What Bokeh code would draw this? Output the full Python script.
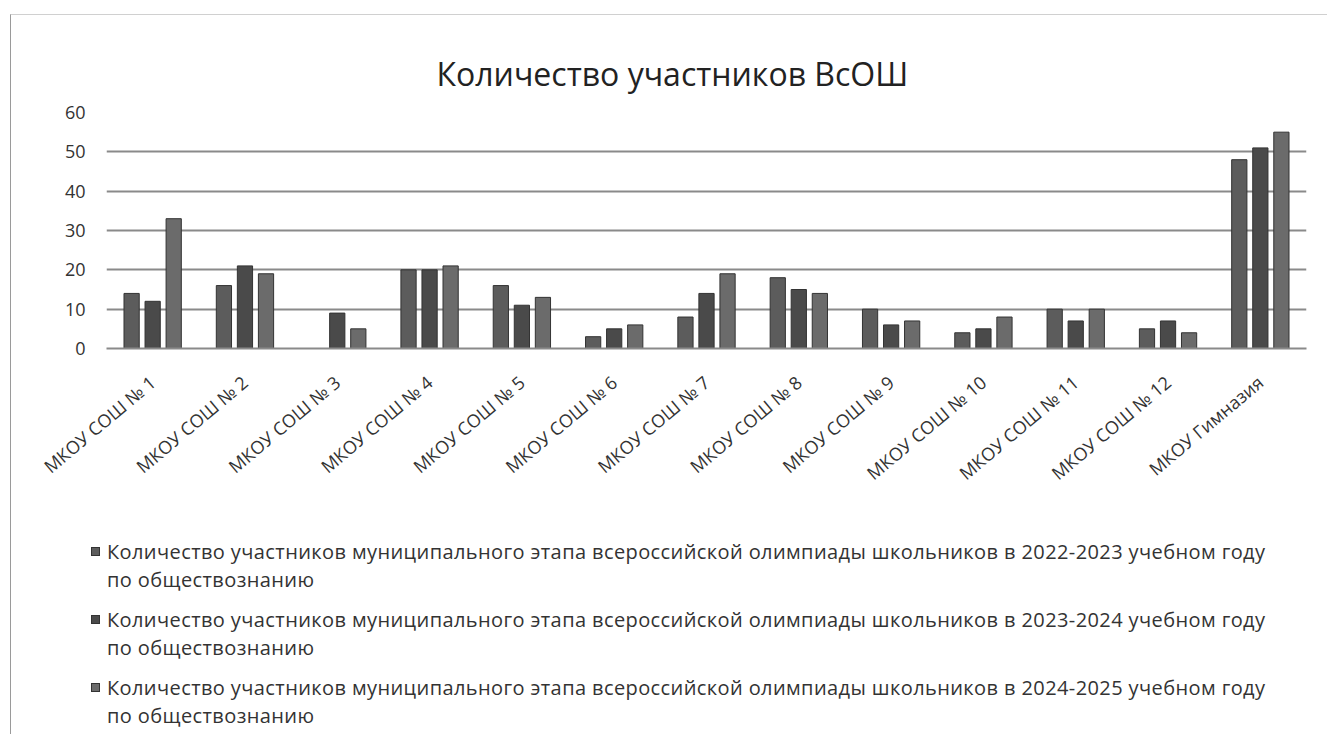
from bokeh.plotting import figure
from bokeh.models import ColumnDataSource, FactorRange, Range1d, FixedTicker, Div
from bokeh.layouts import column
from bokeh.transform import dodge
from bokeh.embed import file_html
from bokeh.resources import INLINE

title_text = "Количество участников ВсОШ"
schools = ["МКОУ СОШ № 1", "МКОУ СОШ № 2", "МКОУ СОШ № 3", "МКОУ СОШ № 4",
           "МКОУ СОШ № 5", "МКОУ СОШ № 6", "МКОУ СОШ № 7", "МКОУ СОШ № 8",
           "МКОУ СОШ № 9", "МКОУ СОШ № 10", "МКОУ СОШ № 11", "МКОУ СОШ № 12",
           "МКОУ Гимназия"]
y_2022 = [14, 16, 0, 20, 16, 3, 8, 18, 10, 4, 10, 5, 48]
y_2023 = [12, 21, 9, 20, 11, 5, 14, 15, 6, 5, 7, 7, 51]
y_2024 = [33, 19, 5, 21, 13, 6, 19, 14, 7, 8, 10, 4, 55]
series_names = [
    "Количество участников муниципального этапа всероссийской олимпиады школьников в 2022-2023 учебном году",
    "Количество участников муниципального этапа всероссийской олимпиады школьников в 2023-2024 учебном году",
    "Количество участников муниципального этапа всероссийской олимпиады школьников в 2024-2025 учебном году",
]
series_suffix = "по обществознанию"
y_ticks = [0, 10, 20, 30, 40, 50, 60]
colors = ["#5c5c5c", "#4a4a4a", "#6b6b6b"]
FONT = "Open Sans"

W = 1310
H1 = 522
H2 = 195

src = ColumnDataSource(dict(x=schools, a=y_2022, b=y_2023, c=y_2024))

p = figure(x_range=FactorRange(*schools), y_range=Range1d(0, 60),
           width=W, height=H1, output_backend="svg", toolbar_location=None,
           min_border_left=95, min_border_right=15, min_border_top=97,
           min_border_bottom=189)
p.title.text = title_text
p.title.align = "left"
p.title.offset = 330
p.title.text_font = FONT
p.title.text_font_size = "32px"
p.title.text_font_style = "normal"
p.title.text_color = "#222222"
p.title.standoff = 36

offs = [-0.228, 0.0, 0.228]
for col, off, c in zip(["a", "b", "c"], offs, colors):
    p.vbar(x=dodge("x", off, range=p.x_range), top=col, width=0.165, bottom=0,
           source=src, fill_color=c, line_color="#333333", line_width=1)

p.outline_line_color = None
p.xgrid.grid_line_color = None
p.ygrid.grid_line_color = "#8a8a8a"
p.ygrid.grid_line_width = 2
p.yaxis.ticker = FixedTicker(ticks=y_ticks)
p.yaxis.axis_line_color = None
p.yaxis.major_tick_line_color = None
p.yaxis.minor_tick_line_color = None
p.yaxis.major_label_text_font = FONT
p.yaxis.major_label_text_font_size = "18px"
p.yaxis.major_label_text_color = "#333333"
p.yaxis.major_label_standoff = 15
p.xaxis.axis_line_color = "#8a8a8a"
p.xaxis.axis_line_width = 2
p.xaxis.major_tick_line_color = None
p.xaxis.minor_tick_line_color = None
p.xaxis.major_label_orientation = 0.70
p.xaxis.major_label_text_font = FONT
p.xaxis.major_label_text_font_size = "18px"
p.xaxis.major_label_text_color = "#333333"
p.xaxis.major_label_standoff = 25

entries = []
for name, c in zip(series_names, colors):
    entries.append(
        '<div style="position:relative;margin-bottom:12px;white-space:nowrap;">'
        f'<span style="position:absolute;left:-16px;top:9px;width:9px;height:9px;'
        f'background:{c};border:1px solid #333;"></span>'
        f'{name}<br>{series_suffix}</div>'
    )
legend_html = (
    f'<div style="font-family:\'{FONT}\';font-size:20px;line-height:28px;'
    'letter-spacing:0.4px;color:#333333;padding-left:91px;margin-top:-4px;">'
    + "".join(entries) + "</div>"
)
legend = Div(text=legend_html, width=W, height=H2)

layout = column(p, legend, spacing=0,
                styles={"margin-left": "10px", "margin-top": "14px",
                        "border-left": "1px solid #9a9a9a",
                        "border-top": "1px solid #d0d0d0",
                        "border-bottom": "2px solid #8a8a8a"})
open("out.html", "w").write(file_html(layout, INLINE))
